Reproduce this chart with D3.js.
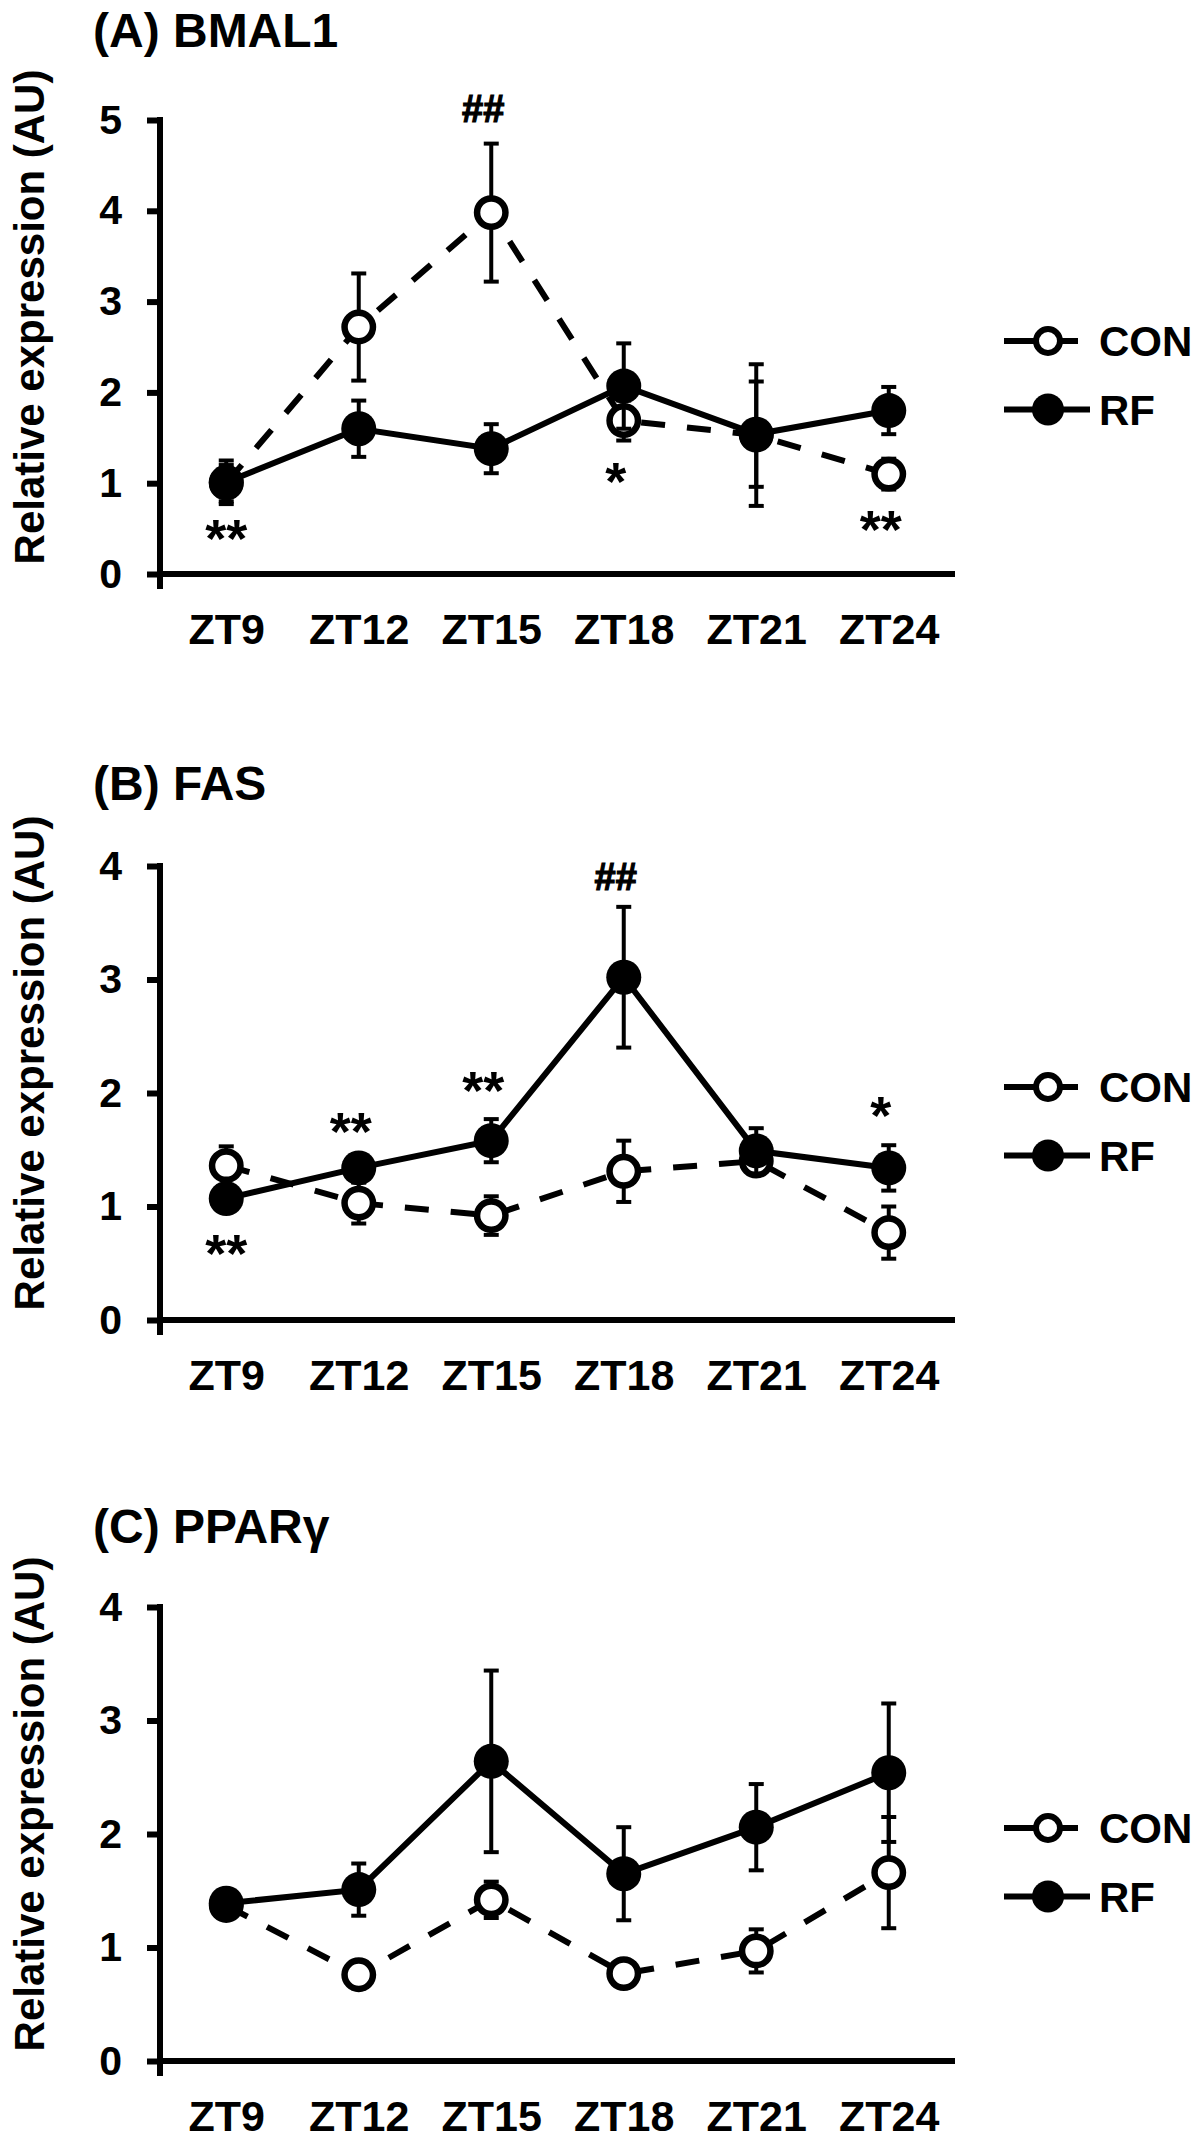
<!DOCTYPE html>
<html>
<head>
<meta charset="utf-8">
<script src="https://cdn.jsdelivr.net/npm/d3@7"></script>
<style>
  body { margin: 0; background: #fff; }
  svg { display: block; font-family: "Liberation Sans", Arial, sans-serif; font-weight: bold; }
</style>
</head>
<body>
<svg id="fig" width="1200" height="2149"></svg>
<script>
// Categories and series names
const CATEGORIES = ["ZT9", "ZT12", "ZT15", "ZT18", "ZT21", "ZT24"];
const SERIES = ["CON", "RF"];

// (A) BMAL1 - means and SE
const BMAL1_CON = [1.00, 2.72, 3.98, 1.69, 1.53, 1.10];
const BMAL1_CON_SE = [0.20, 0.59, 0.76, 0.22, 0.78, 0.17];
const BMAL1_RF = [1.01, 1.60, 1.38, 2.07, 1.54, 1.80];
const BMAL1_RF_SE = [0.24, 0.31, 0.27, 0.47, 0.58, 0.26];
const BMAL1_MARKS = [
  { cat: "ZT9", value: 0.19, text: "**" },
  { cat: "ZT15", value: 4.98, text: "##" },
  { cat: "ZT18", value: 0.81, text: "*" },
  { cat: "ZT24", value: 0.29, text: "**" }
];

// (B) FAS
const FAS_CON = [1.36, 1.03, 0.92, 1.31, 1.40, 0.77];
const FAS_CON_SE = [0.17, 0.18, 0.17, 0.27, 0.10, 0.23];
const FAS_RF = [1.07, 1.34, 1.58, 3.02, 1.49, 1.34];
const FAS_RF_SE = [0.10, 0.12, 0.19, 0.62, 0.20, 0.20];
const FAS_MARKS = [
  { cat: "ZT9", value: 0.42, text: "**" },
  { cat: "ZT12", value: 1.50, text: "**" },
  { cat: "ZT15", value: 1.86, text: "**" },
  { cat: "ZT18", value: 3.79, text: "##" },
  { cat: "ZT24", value: 1.64, text: "*" }
];

// (C) PPARγ
const PPAR_CON = [1.37, 0.76, 1.42, 0.77, 0.97, 1.66];
const PPAR_CON_SE = [0.05, 0.12, 0.16, 0.10, 0.19, 0.49];
const PPAR_RF = [1.39, 1.51, 2.64, 1.65, 2.06, 2.54];
const PPAR_RF_SE = [0.05, 0.23, 0.80, 0.41, 0.38, 0.61];
const PPAR_MARKS = [];

// Layout of the three panels
const PANELS = [
  { title: "(A) BMAL1", yMax: 5, top: 120, titleY: 47, con: BMAL1_CON, conSe: BMAL1_CON_SE, rf: BMAL1_RF, rfSe: BMAL1_RF_SE, marks: BMAL1_MARKS },
  { title: "(B) FAS", yMax: 4, top: 866, titleY: 800, con: FAS_CON, conSe: FAS_CON_SE, rf: FAS_RF, rfSe: FAS_RF_SE, marks: FAS_MARKS },
  { title: "(C) PPARγ", yMax: 4, top: 1607, titleY: 1543, con: PPAR_CON, conSe: PPAR_CON_SE, rf: PPAR_RF, rfSe: PPAR_RF_SE, marks: PPAR_MARKS }
];

const SVG = d3.select("#fig");
const X_LEFT = 160;
const X_RIGHT = 955;
const PLOT_H = 454;
const FONT = "Liberation Sans, Arial, sans-serif";

const SCALE_X = d3.scalePoint().domain(CATEGORIES).range([X_LEFT, X_RIGHT]).padding(0.5);

// style of each series: dashed open circle for CON, solid filled circle for RF
const STYLE = {
  CON: { dash: "24,22", fill: "#fff", r: 14.2, sw: 6.5 },
  RF: { dash: null, fill: "#000", r: 17.5, sw: 0 }
};

PANELS.forEach(p => {
  const g = SVG.append("g");
  const bottom = p.top + PLOT_H;
  const y = d3.scaleLinear().domain([0, p.yMax]).range([bottom, p.top]);

  // panel title
  g.append("text")
    .attr("x", 93).attr("y", p.titleY)
    .attr("font-size", 48)
    .text(p.title);

  // axis title
  g.append("text")
    .attr("transform", `translate(44,${p.top + 197})rotate(-90)`)
    .attr("text-anchor", "middle")
    .attr("font-size", 42)
    .text("Relative expression (AU)");

  // y axis
  const yAxis = d3.axisLeft(y)
    .tickValues(d3.range(0, p.yMax + 1))
    .tickFormat(d3.format("d"))
    .tickSize(13)
    .tickSizeOuter(0)
    .tickPadding(25);
  const gy = g.append("g")
    .attr("transform", `translate(${X_LEFT},0)`)
    .call(yAxis)
    .attr("font-family", FONT)
    .attr("font-size", 41);
  gy.select(".domain").remove();
  gy.selectAll(".tick line").attr("stroke", "#000").attr("stroke-width", 6);
  gy.selectAll(".tick text").attr("fill", "#000").attr("font-weight", "bold");
  g.append("line")
    .attr("x1", X_LEFT).attr("x2", X_LEFT)
    .attr("y1", p.top - 3).attr("y2", bottom + 15)
    .attr("stroke", "#000").attr("stroke-width", 6);

  // x axis
  const xAxis = d3.axisBottom(SCALE_X).tickSize(0).tickPadding(39.5);
  const gx = g.append("g")
    .attr("transform", `translate(0,${bottom})`)
    .call(xAxis)
    .attr("font-family", FONT)
    .attr("font-size", 43);
  gx.select(".domain").remove();
  gx.selectAll(".tick text").attr("fill", "#000").attr("font-weight", "bold");
  g.append("line")
    .attr("x1", X_LEFT - 3).attr("x2", X_RIGHT)
    .attr("y1", bottom).attr("y2", bottom)
    .attr("stroke", "#000").attr("stroke-width", 6);

  // series: CON first, RF on top
  const seriesData = {
    CON: CATEGORIES.map((c, i) => ({ cat: c, v: p.con[i], se: p.conSe[i] })),
    RF: CATEGORIES.map((c, i) => ({ cat: c, v: p.rf[i], se: p.rfSe[i] }))
  };
  const LINE = d3.line().x(d => SCALE_X(d.cat)).y(d => y(d.v));

  SERIES.forEach(name => {
    const data = seriesData[name];
    const st = STYLE[name];
    const gs = g.append("g");

    gs.append("path")
      .datum(data)
      .attr("d", LINE)
      .attr("fill", "none")
      .attr("stroke", "#000")
      .attr("stroke-width", 6)
      .attr("stroke-dasharray", st.dash);

    // error bars
    const eb = gs.selectAll("g.err").data(data).enter().append("g");
    eb.append("line")
      .attr("x1", d => SCALE_X(d.cat)).attr("x2", d => SCALE_X(d.cat))
      .attr("y1", d => y(d.v + d.se)).attr("y2", d => y(d.v - d.se))
      .attr("stroke", "#000").attr("stroke-width", 4);
    [1, -1].forEach(sign => {
      eb.append("line")
        .attr("x1", d => SCALE_X(d.cat) - 7.5).attr("x2", d => SCALE_X(d.cat) + 7.5)
        .attr("y1", d => y(d.v + sign * d.se)).attr("y2", d => y(d.v + sign * d.se))
        .attr("stroke", "#000").attr("stroke-width", 4);
    });

    // markers
    gs.selectAll("circle").data(data).enter().append("circle")
      .attr("cx", d => SCALE_X(d.cat))
      .attr("cy", d => y(d.v))
      .attr("r", st.r)
      .attr("fill", st.fill)
      .attr("stroke", "#000")
      .attr("stroke-width", st.sw);
  });

  // significance marks
  g.selectAll("text.mark").data(p.marks).enter().append("text")
    .attr("class", "mark")
    .attr("x", d => SCALE_X(d.cat) + (d.cat === "ZT9" ? 0 : -8))
    .attr("y", d => y(d.value))
    .attr("text-anchor", "middle")
    .attr("font-size", d => d.text.includes("#") ? 38 : 54)
    .attr("stroke", d => d.text.includes("#") ? "#000" : null)
    .attr("stroke-width", 1.2)
    .text(d => d.text);

  // legend
  const LEG = [
    { name: "CON", y: p.top + 221, x2: 1078, r: 12, sw: 6 },
    { name: "RF", y: p.top + 289.5, x2: 1090, r: 16, sw: 0 }
  ];
  const gl = g.selectAll("g.leg").data(LEG).enter().append("g");
  gl.append("line")
    .attr("x1", 1004).attr("x2", d => d.x2)
    .attr("y1", d => d.y).attr("y2", d => d.y)
    .attr("stroke", "#000").attr("stroke-width", 6);
  gl.append("circle")
    .attr("cx", 1048).attr("cy", d => d.y)
    .attr("r", d => d.r)
    .attr("fill", d => STYLE[d.name].fill)
    .attr("stroke", "#000")
    .attr("stroke-width", d => d.sw);
  gl.append("text")
    .attr("x", 1099).attr("y", d => d.y + 15)
    .attr("font-size", 42)
    .text(d => d.name);
});
</script>
</body>
</html>
